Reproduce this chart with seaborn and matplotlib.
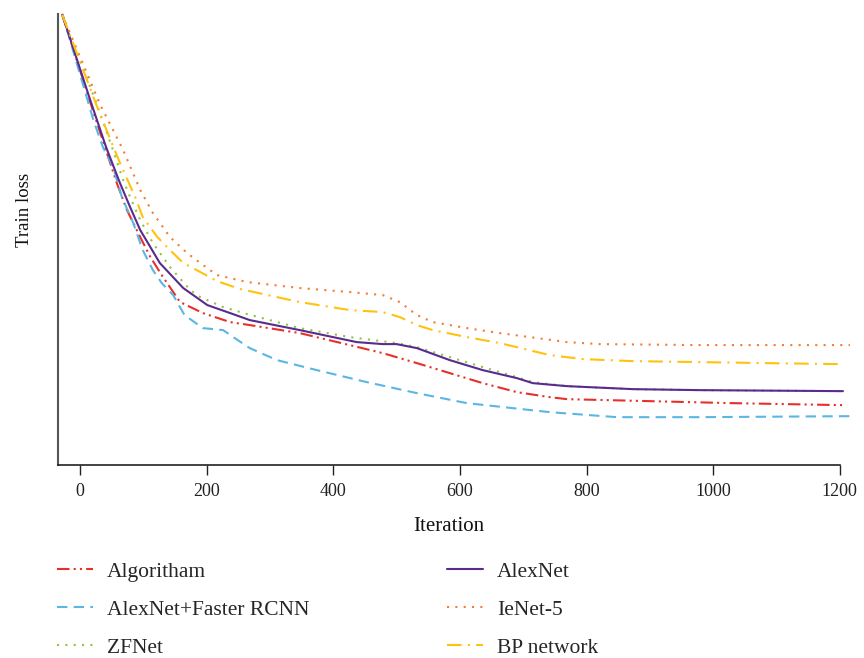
import matplotlib
matplotlib.use("Agg")
import matplotlib.pyplot as plt
import seaborn as sns
import pandas as pd

# ---------------------------
# data (y axis has no scale, arbitrary loss units)
# ---------------------------
alg_x = [-28, 19, 58, 74, 95, 111, 131, 158, 194, 237, 268, 347, 426, 478, 532, 584, 636, 690, 742, 769, 900, 1031, 1205]
alg_y = [4.50, 3.57, 2.82, 2.55, 2.28, 2.08, 1.88, 1.63, 1.52, 1.43, 1.40, 1.32, 1.20, 1.12, 1.02, 0.92, 0.82, 0.73, 0.68, 0.66, 0.64, 0.62, 0.60]

frcnn_x = [-28, 21, 36, 52, 66, 84, 99, 115, 129, 147, 165, 194, 226, 242, 268, 311, 374, 453, 532, 611, 742, 848, 979, 1216]
frcnn_y = [4.51, 3.45, 3.18, 2.98, 2.68, 2.42, 2.15, 1.95, 1.82, 1.70, 1.50, 1.37, 1.35, 1.28, 1.17, 1.05, 0.95, 0.83, 0.72, 0.62, 0.53, 0.48, 0.48, 0.49]

zf_x = [-28, 24, 52, 68, 79, 95, 115, 142, 174, 190, 226, 264, 347, 426, 500, 532, 584, 636, 690, 715, 769, 873, 979, 1205]
zf_y = [4.50, 3.65, 3.15, 2.85, 2.68, 2.45, 2.22, 1.98, 1.75, 1.68, 1.58, 1.51, 1.37, 1.28, 1.22, 1.18, 1.08, 0.98, 0.88, 0.83, 0.79, 0.76, 0.75, 0.74]

alex_x = [-28, 16, 41, 63, 79, 95, 126, 163, 201, 237, 268, 347, 437, 478, 500, 532, 584, 636, 690, 715, 769, 873, 979, 1205]
alex_y = [4.50, 3.65, 3.18, 2.82, 2.58, 2.35, 2.02, 1.77, 1.60, 1.52, 1.45, 1.35, 1.23, 1.21, 1.21, 1.17, 1.05, 0.95, 0.87, 0.82, 0.79, 0.76, 0.75, 0.74]

ie_x = [-28, 32, 68, 95, 115, 142, 169, 190, 216, 264, 347, 426, 478, 505, 532, 557, 611, 663, 769, 821, 979, 1216]
ie_y = [4.50, 3.60, 3.15, 2.75, 2.52, 2.28, 2.12, 2.02, 1.90, 1.83, 1.77, 1.73, 1.70, 1.63, 1.50, 1.43, 1.37, 1.32, 1.23, 1.21, 1.20, 1.20]

bp_x = [-28, 27, 63, 87, 99, 122, 142, 163, 190, 216, 253, 347, 426, 478, 505, 532, 557, 611, 663, 742, 794, 873, 979, 1085, 1200]
bp_y = [4.50, 3.58, 3.02, 2.68, 2.48, 2.28, 2.15, 2.02, 1.93, 1.84, 1.76, 1.63, 1.55, 1.53, 1.48, 1.40, 1.35, 1.28, 1.22, 1.10, 1.06, 1.04, 1.03, 1.02, 1.01]

xticks = [0, 200, 400, 600, 800, 1000, 1200]

series = [
    # label, x, y, colour, dash pattern
    ('Algoritham', alg_x, alg_y, '#e8302a', (0, (6, 2, 1, 2, 1, 2))),
    ('AlexNet+Faster RCNN', frcnn_x, frcnn_y, '#5bb6e4', (0, (5, 3))),
    ('ZFNet', zf_x, zf_y, '#8cc63f', (0, (1, 3))),
    ('AlexNet', alex_x, alex_y, '#5a2a8f', '-'),
    ('IeNet-5', ie_x, ie_y, '#f47d31', (0, (1, 3))),
    ('BP network', bp_x, bp_y, '#ffc20e', (0, (7, 3, 1, 3))),
]

sns.set_theme(style='ticks')
plt.rcParams['font.family'] = ['Liberation Serif', 'DejaVu Serif']

fig = plt.figure(figsize=(8.64, 6.58), dpi=100)
ax = fig.add_axes([0.067, 0.293, 0.905, 0.686])

handles = {}
for label, xs, ys, col, ls in series:
    df = pd.DataFrame({'Iteration': xs, 'loss': ys})
    sns.lineplot(data=df, x='Iteration', y='loss', ax=ax, color=col, linewidth=1.5,
                 sort=False, estimator=None)
    line = ax.lines[-1]
    line.set_linestyle(ls)
    line.set_clip_on(False)
    handles[label] = line

ax.set_xlim(-35, 1200)
ax.set_ylim(0, 4.51)
ax.set_xticks(xticks)
ax.set_yticks([])
ax.tick_params(axis='x', direction='out', length=7, width=1, colors='#222222',
               labelsize=13, pad=6)
for s in ['top', 'right']:
    ax.spines[s].set_visible(False)
ax.spines['left'].set_color('#555555')
ax.spines['left'].set_linewidth(1.5)
ax.spines['bottom'].set_color('#222222')
ax.spines['bottom'].set_linewidth(1.2)
ax.set_xlabel('Iteration', fontsize=15, color='#111111', labelpad=12)
ax.set_ylabel('Train loss', fontsize=13.5, color='#111111')
ax.yaxis.set_label_coords(-0.032, 0.565)

order = ['Algoritham', 'AlexNet+Faster RCNN', 'ZFNet', 'AlexNet', 'IeNet-5', 'BP network']
fig.legend([handles[k] for k in order], order, ncol=2, loc='upper left',
           bbox_to_anchor=(0.066, 0.146), frameon=False, fontsize=15.5,
           handlelength=1.67, handletextpad=0.65, columnspacing=6.4, labelspacing=0.83,
           borderpad=0, borderaxespad=0)

fig.savefig('out.png', dpi=100)
